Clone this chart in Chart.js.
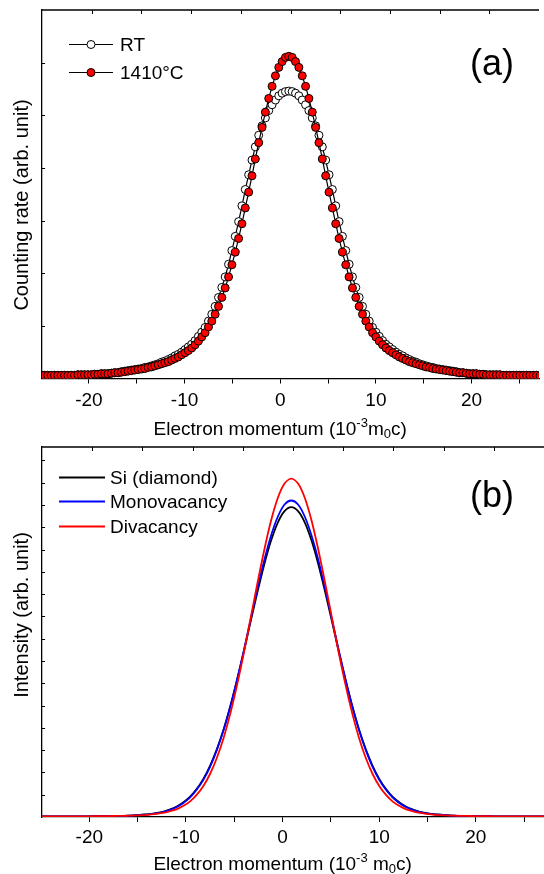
<!DOCTYPE html>
<html>
<head>
<meta charset="utf-8">
<script src="https://cdn.jsdelivr.net/npm/chart.js@4.4.0/dist/chart.umd.min.js"></script>
<style>
  html, body { margin: 0; padding: 0; background: #fff; }
  #wrap { position: relative; width: 544px; height: 874px; }
  canvas { position: absolute; left: 0; }
  #chartA { top: 0; }
  #chartB { top: 440px; }
</style>
</head>
<body>
<div id="wrap">
  <canvas id="chartA" width="544" height="440"></canvas>
  <canvas id="chartB" width="544" height="434"></canvas>
</div>
<script>
// (a) measured Doppler profiles, electron momentum in 10^-3 m0c
const momentumA = [
  -25.00, -24.65, -24.30, -23.95, -23.60, -23.25, -22.90, -22.55, -22.20, -21.85,
  -21.50, -21.15, -20.80, -20.45, -20.10, -19.75, -19.40, -19.05, -18.70, -18.35,
  -18.00, -17.65, -17.30, -16.95, -16.60, -16.25, -15.90, -15.55, -15.20, -14.85,
  -14.50, -14.15, -13.80, -13.45, -13.10, -12.75, -12.40, -12.05, -11.70, -11.35,
  -11.00, -10.65, -10.30, -9.95, -9.60, -9.25, -8.90, -8.55, -8.20, -7.85,
  -7.50, -7.15, -6.80, -6.45, -6.10, -5.75, -5.40, -5.05, -4.70, -4.35,
  -4.00, -3.65, -3.30, -2.95, -2.60, -2.25, -1.90, -1.55, -1.20, -0.85,
  -0.50, -0.15, 0.20, 0.55, 0.90, 1.25, 1.60, 1.95, 2.30, 2.65,
  3.00, 3.35, 3.70, 4.05, 4.40, 4.75, 5.10, 5.45, 5.80, 6.15,
  6.50, 6.85, 7.20, 7.55, 7.90, 8.25, 8.60, 8.95, 9.30, 9.65,
  10.00, 10.35, 10.70, 11.05, 11.40, 11.75, 12.10, 12.45, 12.80, 13.15,
  13.50, 13.85, 14.20, 14.55, 14.90, 15.25, 15.60, 15.95, 16.30, 16.65,
  17.00, 17.35, 17.70, 18.05, 18.40, 18.75, 19.10, 19.45, 19.80, 20.15,
  20.50, 20.85, 21.20, 21.55, 21.90, 22.25, 22.60, 22.95, 23.30, 23.65,
  24.00, 24.35, 24.70, 25.05, 25.40, 25.75, 26.10, 26.45, 26.80, 27.15
];
const countsRT = [
  0.06, 0.06, 0.06, 0.06, 0.06, 0.06, 0.06, 0.06, 0.06, 0.06,
  0.06, 0.07, 0.07, 0.07, 0.07, 0.07, 0.08, 0.08, 0.09, 0.09,
  0.09, 0.10, 0.11, 0.11, 0.13, 0.14, 0.15, 0.16, 0.17, 0.18,
  0.19, 0.21, 0.22, 0.24, 0.26, 0.28, 0.31, 0.33, 0.36, 0.39,
  0.43, 0.46, 0.50, 0.55, 0.60, 0.65, 0.72, 0.80, 0.88, 0.97,
  1.09, 1.22, 1.37, 1.54, 1.73, 1.93, 2.17, 2.43, 2.70, 2.98,
  3.28, 3.59, 3.87, 4.15, 4.40, 4.62, 4.80, 4.95, 5.09, 5.20,
  5.29, 5.37, 5.42, 5.45, 5.46, 5.45, 5.42, 5.37, 5.29, 5.20,
  5.09, 4.95, 4.80, 4.62, 4.40, 4.15, 3.87, 3.59, 3.28, 2.98,
  2.70, 2.43, 2.17, 1.93, 1.73, 1.54, 1.37, 1.22, 1.09, 0.97,
  0.88, 0.80, 0.72, 0.65, 0.60, 0.55, 0.50, 0.46, 0.43, 0.39,
  0.36, 0.33, 0.31, 0.28, 0.26, 0.24, 0.22, 0.21, 0.19, 0.18,
  0.17, 0.16, 0.15, 0.14, 0.13, 0.11, 0.11, 0.10, 0.09, 0.09,
  0.09, 0.08, 0.08, 0.07, 0.07, 0.07, 0.07, 0.07, 0.06, 0.06,
  0.06, 0.06, 0.06, 0.06, 0.06, 0.06, 0.06, 0.06, 0.06, 0.05
];
const counts1410 = [
  0.06, 0.06, 0.06, 0.06, 0.06, 0.06, 0.06, 0.06, 0.06, 0.06,
  0.06, 0.07, 0.07, 0.07, 0.07, 0.07, 0.08, 0.08, 0.09, 0.09,
  0.09, 0.10, 0.11, 0.11, 0.12, 0.13, 0.14, 0.15, 0.16, 0.17,
  0.18, 0.19, 0.21, 0.22, 0.24, 0.26, 0.28, 0.30, 0.32, 0.35,
  0.38, 0.41, 0.45, 0.49, 0.53, 0.58, 0.64, 0.71, 0.79, 0.87,
  0.98, 1.09, 1.22, 1.37, 1.54, 1.72, 1.93, 2.16, 2.40, 2.66,
  2.94, 3.24, 3.54, 3.85, 4.17, 4.48, 4.77, 5.06, 5.32, 5.55,
  5.75, 5.91, 6.02, 6.10, 6.12, 6.10, 6.02, 5.91, 5.75, 5.55,
  5.32, 5.06, 4.77, 4.48, 4.17, 3.85, 3.54, 3.24, 2.94, 2.66,
  2.40, 2.16, 1.93, 1.72, 1.54, 1.37, 1.22, 1.09, 0.98, 0.87,
  0.79, 0.71, 0.64, 0.58, 0.53, 0.49, 0.45, 0.41, 0.38, 0.35,
  0.32, 0.30, 0.28, 0.26, 0.24, 0.22, 0.21, 0.19, 0.18, 0.17,
  0.16, 0.15, 0.14, 0.13, 0.12, 0.11, 0.11, 0.10, 0.09, 0.09,
  0.09, 0.08, 0.08, 0.07, 0.07, 0.07, 0.07, 0.07, 0.06, 0.06,
  0.06, 0.06, 0.06, 0.06, 0.06, 0.06, 0.06, 0.06, 0.06, 0.05
];

// (b) calculated momentum distributions
const momentumB = [
  -25.0, -24.3, -23.6, -22.9, -22.2, -21.5, -20.8, -20.1, -19.4, -18.7,
  -18.0, -17.3, -16.6, -15.9, -15.2, -14.5, -13.8, -13.1, -12.4, -11.7,
  -11.0, -10.3, -9.6, -8.9, -8.2, -7.5, -6.8, -6.1, -5.4, -4.7,
  -4.0, -3.3, -2.6, -1.9, -1.2, -0.5, 0.2, 0.9, 1.6, 2.3,
  3.0, 3.7, 4.4, 5.1, 5.8, 6.5, 7.2, 7.9, 8.6, 9.3,
  10.0, 10.7, 11.4, 12.1, 12.8, 13.5, 14.2, 14.9, 15.6, 16.3,
  17.0, 17.7, 18.4, 19.1, 19.8, 20.5, 21.2, 21.9, 22.6, 23.3,
  24.0, 24.7, 25.4, 26.1, 26.8, 27.5
];
const intensitySi = [
  0.03, 0.03, 0.03, 0.03, 0.03, 0.03, 0.03, 0.03, 0.04, 0.04,
  0.04, 0.05, 0.05, 0.06, 0.08, 0.10, 0.13, 0.17, 0.23, 0.33,
  0.46, 0.65, 0.90, 1.25, 1.71, 2.31, 3.05, 3.94, 4.99, 6.17,
  7.45, 8.79, 10.10, 11.33, 12.39, 13.21, 13.72, 13.90, 13.72, 13.21,
  12.39, 11.33, 10.10, 8.79, 7.45, 6.17, 4.99, 3.94, 3.05, 2.31,
  1.71, 1.25, 0.90, 0.65, 0.46, 0.33, 0.23, 0.17, 0.13, 0.10,
  0.08, 0.06, 0.05, 0.05, 0.04, 0.04, 0.04, 0.03, 0.03, 0.03,
  0.03, 0.03, 0.03, 0.03, 0.03, 0.03
];
const intensityMono = [
  0.03, 0.03, 0.03, 0.03, 0.03, 0.03, 0.03, 0.03, 0.04, 0.04,
  0.04, 0.05, 0.05, 0.06, 0.08, 0.10, 0.12, 0.16, 0.22, 0.31,
  0.44, 0.62, 0.87, 1.22, 1.67, 2.26, 3.01, 3.91, 4.98, 6.19,
  7.50, 8.88, 10.24, 11.52, 12.62, 13.47, 14.02, 14.20, 14.02, 13.47,
  12.62, 11.52, 10.24, 8.88, 7.50, 6.19, 4.98, 3.91, 3.01, 2.26,
  1.67, 1.22, 0.87, 0.62, 0.44, 0.31, 0.22, 0.16, 0.12, 0.10,
  0.08, 0.06, 0.05, 0.05, 0.04, 0.04, 0.04, 0.03, 0.03, 0.03,
  0.03, 0.03, 0.03, 0.03, 0.03, 0.03
];
const intensityDi = [
  0.03, 0.03, 0.03, 0.03, 0.03, 0.03, 0.03, 0.03, 0.04, 0.04,
  0.04, 0.05, 0.05, 0.06, 0.07, 0.08, 0.11, 0.14, 0.18, 0.25,
  0.34, 0.49, 0.69, 0.99, 1.39, 1.94, 2.66, 3.56, 4.66, 5.95,
  7.39, 8.94, 10.50, 11.98, 13.29, 14.31, 14.96, 15.18, 14.96, 14.31,
  13.29, 11.98, 10.50, 8.94, 7.39, 5.95, 4.66, 3.56, 2.66, 1.94,
  1.39, 0.99, 0.69, 0.49, 0.34, 0.25, 0.18, 0.14, 0.11, 0.08,
  0.07, 0.06, 0.05, 0.05, 0.04, 0.04, 0.04, 0.03, 0.03, 0.03,
  0.03, 0.03, 0.03, 0.03, 0.03, 0.03
];

// tick marks along the momentum axis, labels only on multiples of 10
const momentumTicks = [-20, -15, -10, -5, 0, 5, 10, 15, 20, 25];

const FONT = '"Liberation Sans", Arial, Helvetica, sans-serif';

function pts(xs, ys) {
  return xs.map((x, i) => ({ x: x, y: ys[i] }));
}

// x title with superscript / subscript parts
function drawRichText(ctx, parts, cx, cy, size) {
  const small = Math.round(size * 0.68);
  let w = 0;
  parts.forEach(p => {
    ctx.font = (p.s === 'n' ? size : small) + 'px ' + FONT;
    p.w = ctx.measureText(p.t).width;
    w += p.w;
  });
  let x = cx - w / 2;
  ctx.textBaseline = 'alphabetic';
  ctx.textAlign = 'left';
  const base = cy + size * 0.36;
  parts.forEach(p => {
    ctx.font = (p.s === 'n' ? size : small) + 'px ' + FONT;
    let y = base;
    if (p.s === 'sup') y = base - size * 0.42;
    if (p.s === 'sub') y = base + size * 0.18;
    ctx.fillText(p.t, x, y);
    x += p.w;
  });
}

const framePlugin = {
  id: 'frame',
  afterDraw(chart, args, o) {
    const { ctx, chartArea: a, scales } = chart;
    ctx.save();
    ctx.strokeStyle = '#000';
    ctx.fillStyle = '#000';
    // top border with inward ticks
    ctx.lineWidth = 1.3;
    ctx.beginPath();
    ctx.moveTo(a.left, a.top);
    ctx.lineTo(a.right, a.top);
    ctx.stroke();
    ctx.lineWidth = 1;
    ctx.beginPath();
    for (let i = 1; i < 10; i++) {
      const x = Math.round(a.left + (a.right - a.left) * i / 10) + 0.5;
      ctx.moveTo(x, a.top);
      ctx.lineTo(x, a.top + 4);
    }
    // left inward ticks
    for (let v = 1; v < o.yMax; v++) {
      const y = Math.round(scales.y.getPixelForValue(v)) + 0.5;
      ctx.moveTo(a.left, y);
      ctx.lineTo(a.left + 3, y);
    }
    ctx.stroke();

    // y title
    ctx.save();
    ctx.translate(o.yTitleX, o.yTitleY);
    ctx.rotate(-Math.PI / 2);
    ctx.font = '20px ' + FONT;
    ctx.textAlign = 'center';
    ctx.textBaseline = 'middle';
    ctx.fillText(o.yTitle, 0, 0);
    ctx.restore();

    // x title
    drawRichText(ctx, o.xTitle, scales.x.getPixelForValue(0), o.xTitleY, 19);

    // panel label
    ctx.font = '36px ' + FONT;
    ctx.textAlign = 'center';
    ctx.textBaseline = 'middle';
    ctx.fillText(o.panel, o.panelX, o.panelY);

    // legend
    const L = o.legend;
    chart.data.datasets.forEach((ds, i) => {
      const y = L.rows[i] + 0.5;
      ctx.strokeStyle = ds.borderColor;
      ctx.lineWidth = Math.max(1, ds.borderWidth);
      ctx.beginPath();
      ctx.moveTo(L.x1, y);
      ctx.lineTo(L.x2, y);
      ctx.stroke();
      if (ds.pointRadius > 0) {
        ctx.beginPath();
        ctx.arc((L.x1 + L.x2) / 2, y, ds.pointRadius, 0, Math.PI * 2);
        ctx.fillStyle = ds.pointBackgroundColor;
        ctx.fill();
        ctx.lineWidth = ds.pointBorderWidth;
        ctx.strokeStyle = ds.pointBorderColor;
        ctx.stroke();
      }
      ctx.fillStyle = '#000';
      ctx.font = '19px ' + FONT;
      ctx.textAlign = 'left';
      ctx.textBaseline = 'middle';
      ctx.fillText(ds.label, L.xText, y + 1);
    });
    ctx.restore();
  }
};

function axes(yMax, xHeight, tickPad) {
  return {
    x: {
      type: 'linear',
      min: -24.9,
      max: 27.05,
      afterBuildTicks: s => { s.ticks = momentumTicks.map(v => ({ value: v })); },
      afterFit: s => { s.height = xHeight; },
      ticks: {
        autoSkip: false,
        maxRotation: 0,
        padding: tickPad,
        color: '#000',
        font: { family: FONT, size: 19 },
        callback: v => (v % 10 === 0 ? String(v) : '')
      },
      grid: { display: true, drawOnChartArea: false, drawTicks: true, tickLength: 5, color: '#000', lineWidth: 1 },
      border: { display: true, color: '#000', width: 1.3 }
    },
    y: {
      min: 0,
      max: yMax,
      afterFit: s => { s.width = 42; },
      ticks: { display: false, stepSize: 1 },
      grid: { display: false },
      border: { display: true, color: '#000', width: 1.3 }
    }
  };
}

const common = {
  responsive: false,
  animation: false,
  events: [],
  plugins: { legend: { display: false }, tooltip: { enabled: false } }
};

new Chart(document.getElementById('chartA'), {
  type: 'scatter',
  data: {
    datasets: [
      {
        label: 'RT',
        data: pts(momentumA, countsRT),
        showLine: true,
        borderColor: '#000',
        borderWidth: 1.2,
        pointRadius: 4,
        pointBackgroundColor: '#ffffff',
        pointBorderColor: '#000',
        pointBorderWidth: 1,
        order: 1
      },
      {
        label: '1410\u00b0C',
        data: pts(momentumA, counts1410),
        showLine: true,
        borderColor: '#000',
        borderWidth: 1.2,
        pointRadius: 4,
        pointBackgroundColor: '#ff0000',
        pointBorderColor: '#000',
        pointBorderWidth: 1,
        order: 0
      }
    ]
  },
  options: Object.assign({}, common, {
    layout: { padding: { top: 10, right: 0, left: 0, bottom: 0 } },
    scales: axes(7, 61.5, 6),
    plugins: Object.assign({}, common.plugins, {
      frame: {
        yMax: 7,
        yTitle: 'Counting rate (arb. unit)',
        yTitleX: 22, yTitleY: 205,
        xTitle: [
          { t: 'Electron momentum (10', s: 'n' },
          { t: '-3', s: 'sup' },
          { t: 'm', s: 'n' },
          { t: '0', s: 'sub' },
          { t: 'c)', s: 'n' }
        ],
        xTitleY: 428,
        panel: '(a)', panelX: 492, panelY: 65,
        legend: { x1: 69, x2: 113, xText: 120, rows: [44, 72] }
      }
    })
  }),
  plugins: [framePlugin]
});

new Chart(document.getElementById('chartB'), {
  type: 'scatter',
  data: {
    datasets: [
      {
        label: 'Si (diamond)',
        data: pts(momentumB, intensitySi),
        showLine: true,
        borderColor: '#000000',
        borderWidth: 1.8,
        pointRadius: 0,
        order: 2
      },
      {
        label: 'Monovacancy',
        data: pts(momentumB, intensityMono),
        showLine: true,
        borderColor: '#0000ff',
        borderWidth: 1.8,
        pointRadius: 0,
        order: 1
      },
      {
        label: 'Divacancy',
        data: pts(momentumB, intensityDi),
        showLine: true,
        borderColor: '#ff0000',
        borderWidth: 1.8,
        pointRadius: 0,
        order: 0
      }
    ]
  },
  options: Object.assign({}, common, {
    layout: { padding: { top: 7, right: 0, left: 0, bottom: 0 } },
    elements: { line: { tension: 0.3 } },
    scales: axes(16.6, 57, 4.5),
    plugins: Object.assign({}, common.plugins, {
      frame: {
        yMax: 16.6,
        yTitle: 'Intensity (arb. unit)',
        yTitleX: 22, yTitleY: 175,
        xTitle: [
          { t: 'Electron momentum (10', s: 'n' },
          { t: '-3', s: 'sup' },
          { t: ' m', s: 'n' },
          { t: '0', s: 'sub' },
          { t: 'c)', s: 'n' }
        ],
        xTitleY: 423,
        panel: '(b)', panelX: 492, panelY: 57,
        legend: { x1: 59, x2: 105, xText: 110, rows: [37, 61, 86] }
      }
    })
  }),
  plugins: [framePlugin]
});
</script>
</body>
</html>
